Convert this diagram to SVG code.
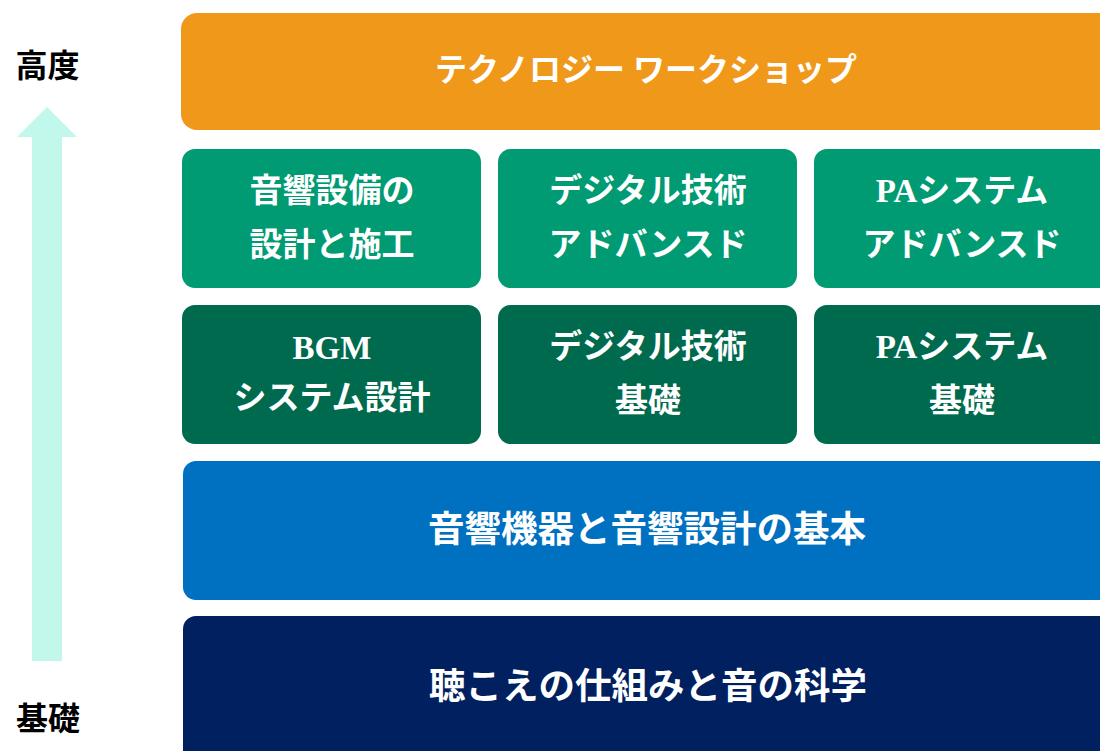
<svg xmlns="http://www.w3.org/2000/svg" width="1100" height="751" viewBox="0 0 1100 751">
  <style>
    .t { font-family: "Liberation Serif", "Noto Sans CJK JP", serif; font-weight: bold; fill: #ffffff; text-anchor: middle; dominant-baseline: central; }
    .big { font-size: 36.5px; }
    .top { font-size: 32px; }
    .mid { font-size: 33px; }
    .side { font-family: "Noto Sans CJK JP", sans-serif; font-weight: bold; font-size: 32px; fill: #000000; text-anchor: middle; dominant-baseline: central; }
    .orange { fill: #F0981A; }
    .green1 { fill: #009A73; }
    .green2 { fill: #006A4E; }
    .blue { fill: #0070C0; }
    .navy { fill: #002060; }
  </style>
  <rect width="1100" height="751" fill="#ffffff"/>

  <g id="axis">
    <polygon points="47,107 77,137 62,137 62,661 32,661 32,137 17,137" fill="#C2F8EC"/>
    <text class="side" x="47.5" y="63">高度</text>
    <text class="side" x="48" y="716">基礎</text>
  </g>

  <g id="workshop">
    <rect class="orange" x="181" y="13" width="940" height="117" rx="16"/>
    <text class="t top" x="646" y="70">テクノロジー ワークショップ</text>
  </g>

  <g id="acoustic-design-advanced">
    <rect class="green1" x="182" y="149" width="299" height="139" rx="13"/>
    <text class="t mid" x="332" y="191">音響設備の</text>
    <text class="t mid" x="332" y="245">設計と施工</text>
  </g>
  <g id="digital-advanced">
    <rect class="green1" x="498" y="149" width="299" height="139" rx="13"/>
    <text class="t mid" x="648" y="191">デジタル技術</text>
    <text class="t mid" x="648" y="245">アドバンスド</text>
  </g>
  <g id="pa-advanced">
    <rect class="green1" x="814" y="149" width="299" height="139" rx="13"/>
    <text class="t mid" x="962" y="191">PAシステム</text>
    <text class="t mid" x="962" y="245">アドバンスド</text>
  </g>

  <g id="bgm-basic">
    <rect class="green2" x="182" y="305" width="299" height="139" rx="13"/>
    <text class="t mid" x="332" y="348">BGM</text>
    <text class="t mid" x="332" y="398">システム設計</text>
  </g>
  <g id="digital-basic">
    <rect class="green2" x="498" y="305" width="299" height="139" rx="13"/>
    <text class="t mid" x="648" y="347">デジタル技術</text>
    <text class="t mid" x="648" y="401">基礎</text>
  </g>
  <g id="pa-basic">
    <rect class="green2" x="814" y="305" width="299" height="139" rx="13"/>
    <text class="t mid" x="962" y="347">PAシステム</text>
    <text class="t mid" x="962" y="401">基礎</text>
  </g>

  <g id="equipment-basics">
    <rect class="blue" x="183" y="461" width="940" height="139" rx="13"/>
    <text class="t big" x="647" y="529">音響機器と音響設計の基本</text>
  </g>

  <g id="hearing-science">
    <rect class="navy" x="183" y="616" width="940" height="160" rx="13"/>
    <text class="t big" x="648" y="686">聴こえの仕組みと音の科学</text>
  </g>

  <g id="connectors"></g>
</svg>
